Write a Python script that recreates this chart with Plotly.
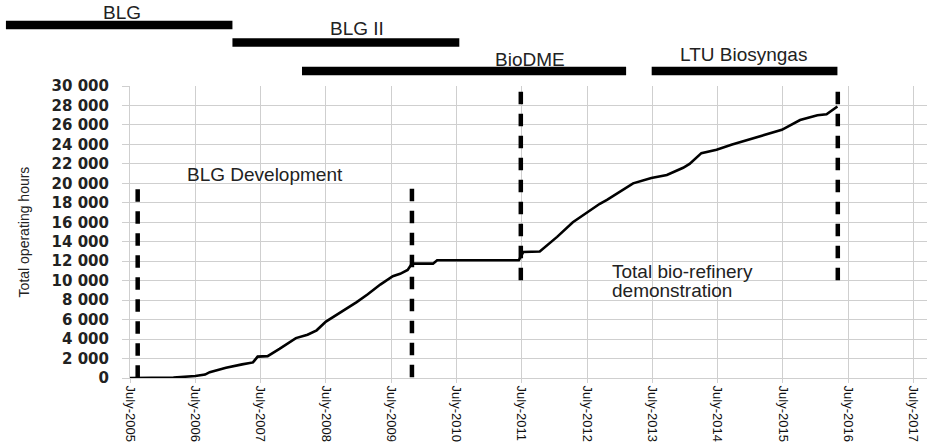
import pandas as pd
import plotly.graph_objects as go

# ---------------- data ----------------
op_dates = ["2005-07-01", "2005-08-15", "2006-03-01", "2006-07-01", "2006-08-25", "2006-09-20",
            "2006-12-20", "2007-03-20", "2007-05-20", "2007-06-15", "2007-08-10", "2007-10-15",
            "2008-01-15", "2008-03-20", "2008-05-10", "2008-07-01", "2008-10-25", "2008-12-20",
            "2009-02-20", "2009-05-01", "2009-07-10", "2009-08-20", "2009-10-01", "2009-10-25",
            "2010-02-20", "2010-03-15", "2011-06-15", "2011-07-10", "2011-10-10", "2012-01-15",
            "2012-04-12", "2012-07-01", "2012-09-10", "2012-10-20", "2012-12-20", "2013-03-15",
            "2013-06-25", "2013-09-20", "2013-12-20", "2014-01-25", "2014-04-01", "2014-06-25",
            "2014-09-20", "2014-12-20", "2015-03-20", "2015-06-25", "2015-10-05", "2016-01-10",
            "2016-03-01", "2016-05-01"]
op_hours = [0, 0, 50, 200, 350, 600,
            1050, 1400, 1600, 2200, 2250, 3000,
            4100, 4450, 4900, 5800, 7100, 7800,
            8600, 9600, 10450, 10700, 11100, 11750,
            11750, 12100, 12100, 12950, 13000, 14500,
            16000, 17050, 17900, 18300, 19000, 20000,
            20550, 20850, 21600, 22000, 23100, 23450,
            24000, 24500, 25000, 25500, 26500, 27000,
            27100, 27900]

# phase markers (dashed verticals)
marker_dates = ["2005-08-13", "2009-10-25", "2011-06-26", "2016-05-03"]
marker_bottom = [0, 0, 10000, 10000]
marker_top = [19400, 19450, 29400, 29400]

# project periods (timeline bars above chart)
projects = ["BLG", "BLG II", "BioDME", "LTU Biosyngas"]
project_start = ["2003-08-07", "2007-01-25", "2008-02-18", "2013-06-27"]
project_end = ["2007-01-25", "2010-07-17", "2013-02-04", "2016-05-01"]
project_lane = [0.0, 1.0, 2.63, 2.63]
project_label_date = ["2005-05-17", "2008-12-20", "2011-08-16", "2014-11-25"]
project_label_shift = [13, 14, 12, 17]

# phase annotations
phase_texts = ["BLG Development", "Total bio-refinery", "demonstration"]
phase_dates = ["2006-05-04", "2012-11-07", "2012-11-07"]
phase_values = [20900, 10920, 9040]

# axes
tick_years = list(range(2005, 2018))
x_tickvals = [f"{y}-07-01" for y in tick_years]
x_ticktext = [f"July-{y}" for y in tick_years]
y_tickvals = list(range(0, 30001, 2000))
y_ticktext = [f"{v:,}".replace(",", " ") for v in y_tickvals]

# ---------------- layout geometry ----------------
W, H = 930, 444
ML, MR, MT, MB = 4, 3, 4, 66
paper_w = W - ML - MR
paper_h = H - MT - MB
plot_left_px = 130
plot_top_px = 86
dom0 = (plot_left_px - ML) / paper_w
ydom_top = (H - MB - plot_top_px) / paper_h

x_start = pd.Timestamp("2005-07-01")
x_end = pd.Timestamp("2017-09-14")
span = x_end - x_start
x2_start = x_start - span * (dom0 / (1 - dom0))

# lane axis: 17.5 px per lane unit, lane 0 at 25 px from top
lane_px = 17.5
lane0_px = 25
y2_top_px, y2_bot_px = MT, 84
y2_range = [(y2_bot_px - lane0_px) / lane_px, (y2_top_px - lane0_px) / lane_px]
y2_dom_bottom = (H - MB - y2_bot_px) / paper_h

fig = go.Figure()

# main cumulative curve
fig.add_trace(go.Scatter(x=op_dates, y=op_hours, mode="lines",
                         line=dict(color="black", width=2.6), hoverinfo="x+y",
                         showlegend=False))

# dashed phase markers (drawn top -> bottom so the dash pattern starts at the top)
for d, y0, y1 in zip(marker_dates, marker_bottom, marker_top):
    fig.add_trace(go.Scatter(x=[d, d], y=[y1, y0], mode="lines",
                             line=dict(color="black", width=4.5, dash="12.5px,9.5px"),
                             showlegend=False, hoverinfo="skip"))

# project bars
for name, s, e, lane in zip(projects, project_start, project_end, project_lane):
    fig.add_trace(go.Scatter(x=[s, e], y=[lane, lane], mode="lines", xaxis="x2", yaxis="y2",
                             line=dict(color="black", width=8.5), name=name,
                             showlegend=False, hoverinfo="name"))

annotations = []
for name, d, lane, sh in zip(projects, project_label_date, project_lane, project_label_shift):
    annotations.append(dict(text=name, x=d, y=lane, xref="x2", yref="y2", yshift=sh,
                            showarrow=False, xanchor="center", yanchor="middle",
                            font=dict(family="Liberation Sans, Arial", size=19, color="#222")))
for t, d, v in zip(phase_texts, phase_dates, phase_values):
    annotations.append(dict(text=t, x=d, y=v, xref="x", yref="y", showarrow=False,
                            xanchor="left", yanchor="middle",
                            font=dict(family="Liberation Sans, Arial", size=19, color="#222")))

grid = "#cfcfcf"
fig.update_layout(
    width=W, height=H,
    margin=dict(l=ML, r=MR, t=MT, b=MB, autoexpand=False),
    paper_bgcolor="white", plot_bgcolor="white",
    showlegend=False,
    annotations=annotations,
    xaxis=dict(domain=[dom0, 1], type="date", range=[x_start, x_end],
               tickvals=x_tickvals, ticktext=x_ticktext, tickangle=90,
               showgrid=True, gridcolor=grid, gridwidth=1,
               showline=True, linecolor=grid, linewidth=1,
               ticks="outside", ticklen=4, tickcolor=grid,
               tickfont=dict(family="Liberation Sans, Arial", size=13, color="#111"),
               zeroline=False, automargin=False),
    yaxis=dict(domain=[0, ydom_top], range=[0, 30000],
               tickvals=y_tickvals, ticktext=y_ticktext,
               showgrid=True, gridcolor=grid, gridwidth=1,
               showline=True, linecolor=grid, linewidth=1,
               ticks="outside", ticklen=7, tickcolor=grid,
               ticklabelstandoff=10,
               tickfont=dict(family="DejaVu Sans", size=15, color="#222", weight="bold"),
               title=dict(text="Total operating hours", standoff=18,
                          font=dict(family="Liberation Sans, Arial", size=14, color="#222")),
               zeroline=False, automargin=False),
    xaxis2=dict(domain=[0, 1], type="date", range=[x2_start, x_end], anchor="y2",
                visible=False, fixedrange=True),
    yaxis2=dict(domain=[y2_dom_bottom, 1], range=y2_range, anchor="x2",
                visible=False, fixedrange=True),
)

fig.write_html("out.html", config={"displayModeBar": False},
               post_script="document.body.style.margin='0px';")
